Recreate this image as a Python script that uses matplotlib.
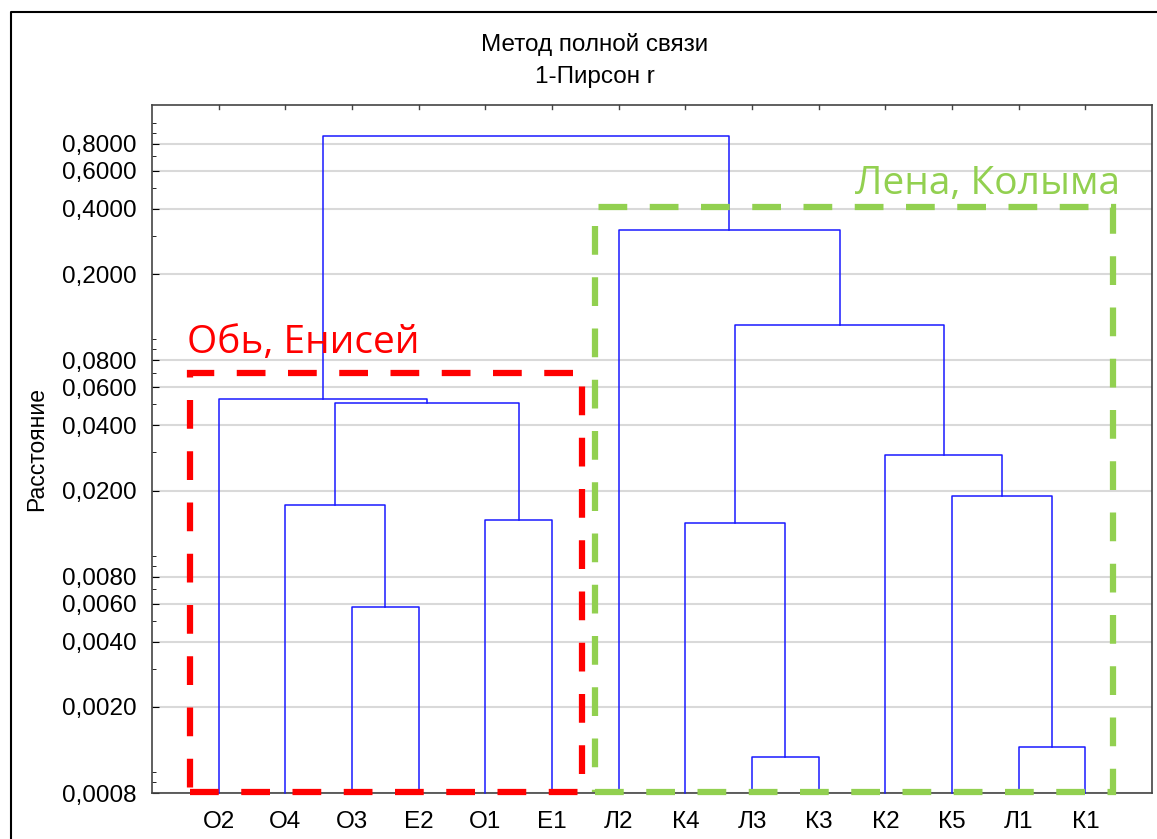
import numpy as np
import matplotlib.pyplot as plt
from matplotlib.patches import Rectangle
from matplotlib.lines import Line2D
from matplotlib.ticker import FixedLocator, FuncFormatter

plt.rcParams['font.family'] = ['Liberation Sans', 'DejaVu Sans']

# листья дерева в порядке отрисовки
листья = ["О2", "О4", "О3", "Е2", "О1", "Е1", "Л2", "К4", "Л3", "К3", "К2", "К5", "Л1", "К1"]

# объединения: (левый, правый, расстояние); число = номер предыдущего объединения
слияния = [
    ("О3", "Е2", 0.0058),
    ("О4", 0, 0.0171),
    ("О1", "Е1", 0.0146),
    (1, 2, 0.0508),
    ("О2", 3, 0.0530),
    ("Л3", "К3", 0.00117),
    ("К4", 5, 0.0142),
    ("Л1", "К1", 0.0013),
    ("К5", 7, 0.0189),
    ("К2", 8, 0.0292),
    (6, 9, 0.117),
    ("Л2", 10, 0.321),
    (4, 11, 0.872),
]

большие = [0.0008, 0.002, 0.004, 0.006, 0.008, 0.02, 0.04, 0.06, 0.08, 0.2, 0.4, 0.6, 0.8]
малые = [0.0009, 0.001, 0.003, 0.005, 0.007, 0.009, 0.01, 0.03, 0.05, 0.07, 0.09,
         0.1, 0.3, 0.5, 0.7, 0.9, 1.0]

низ, верх = 0.0008, 1.21

fig = plt.figure(figsize=(11.57, 8.39), dpi=100)
ax = fig.add_axes([0.1314, 0.0548, 0.8643, 0.8201])
ax.set_yscale("log")
ax.set_ylim(низ, верх)
ax.set_xlim(-1, len(листья))

# рисуем дерево
узлы = []
def положение(c):
    if isinstance(c, str):
        return листья.index(c), низ
    return узлы[c]

for a, b, h in слияния:
    x1, y1 = положение(a)
    x2, y2 = положение(b)
    ax.plot([x1, x1, x2, x2], [y1, h, h, y2], color="#1a1aff", lw=1.1, zorder=3,
            clip_on=False)
    узлы.append(((x1 + x2) / 2, h))

ax.yaxis.set_major_locator(FixedLocator(большие))
ax.yaxis.set_minor_locator(FixedLocator(малые))
ax.yaxis.set_major_formatter(FuncFormatter(lambda v, p: f"{v:.4f}".replace(".", ",")))
ax.yaxis.set_minor_formatter(FuncFormatter(lambda v, p: ""))
ax.tick_params(axis="y", which="major", direction="in", length=5, labelsize=17.5,
               right=False, pad=11)
ax.tick_params(axis="y", which="minor", direction="in", length=3, right=False)
ax.grid(axis="y", which="major", color="#d9d9d9", lw=1.5, zorder=0)

ax.set_xticks(range(len(листья)))
ax.set_xticklabels(листья)
ax.tick_params(axis="x", which="both", direction="in", length=0, labelsize=17.5, pad=13,
               top=True)
for x in range(len(листья)):
    ax.plot([x, x], [верх, верх / 1.045], color="#444444", lw=1, clip_on=False)

for s in ax.spines.values():
    s.set_color("#444444")
    s.set_linewidth(1.2)

ax.set_ylabel("Расстояние", fontsize=16.5, labelpad=10)

fig.text(0.514, 0.9466, "Метод полной связи", ha="center", va="center", fontsize=17.5)
fig.text(0.514, 0.9086, "1-Пирсон r", ha="center", va="center", fontsize=17.5)

# рамки групп
рамки = [
    (-0.435, 5.445, 0.0701, "#ff0000", "Обь, Енисей", -0.48, 0.086, "left"),
    (5.64, 13.41, 0.41, "#92d050", "Лена, Колыма", 13.52, 0.47, "right"),
]
for x0, x1, yt, цвет, текст, tx, ty, ha in рамки:
    r = Rectangle((x0, низ * 1.01), x1 - x0, yt - низ * 1.01, fill=False,
                  edgecolor=цвет, lw=4.5, linestyle=(0, (4.6, 3.6)), zorder=4,
                  clip_on=False)
    ax.add_patch(r)
    ax.text(tx, ty, текст, color=цвет, fontsize=28, ha=ha, va="baseline",
            family=["Open Sans", "DejaVu Sans"], zorder=5)

# внешняя рамка
fig.add_artist(Line2D([0.0095, 0.0095, 1.05], [-0.1, 0.9857, 0.9857],
                      transform=fig.transFigure, color="black", lw=1.5))

fig.savefig("out.png", dpi=100)
